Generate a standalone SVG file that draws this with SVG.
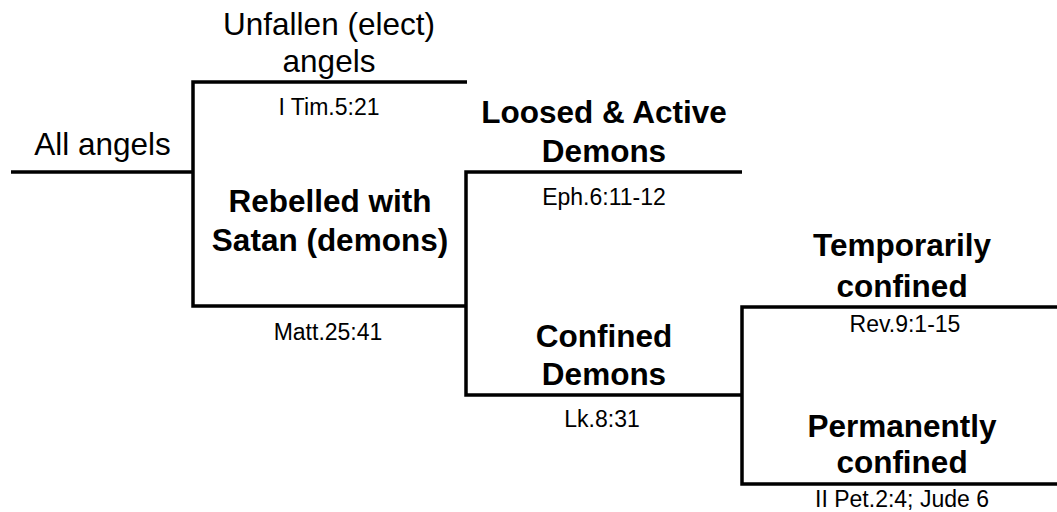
<svg xmlns="http://www.w3.org/2000/svg" width="1057" height="512" viewBox="0 0 1057 512">
<style>
text{font-family:"Liberation Sans",Arial,Helvetica,sans-serif;fill:#000;text-anchor:middle}
.big{font-size:31.5px}
.bold{font-size:31.5px;font-weight:bold}
.ref{font-size:23px}
.ln{fill:none;stroke:#000;stroke-width:3.5;stroke-linejoin:miter;stroke-linecap:butt}
</style>
<rect width="1057" height="512" fill="#fff"/>
<g id="connectors">
<path class="ln" d="M11,172 H193"/>
<path class="ln" d="M467,82 H193 V306 H466"/>
<path class="ln" d="M742,172 H466 V395 H742"/>
<path class="ln" d="M1057,307 H742 V484 H1057"/>
</g>
<g id="all-angels"><text class="big" x="102.5" y="155">All angels</text></g>
<g id="unfallen">
<text class="big" x="329" y="35">Unfallen (elect)</text>
<text class="big" x="329" y="72">angels</text>
<text class="ref" x="329" y="115">I Tim.5:21</text>
</g>
<g id="rebelled">
<text class="bold" x="330" y="212">Rebelled with</text>
<text class="bold" x="330" y="251">Satan (demons)</text>
<text class="ref" x="328" y="340">Matt.25:41</text>
</g>
<g id="loosed">
<text class="bold" x="604" y="123">Loosed &amp; Active</text>
<text class="bold" x="604" y="162">Demons</text>
<text class="ref" x="604" y="205">Eph.6:11-12</text>
</g>
<g id="confined">
<text class="bold" x="604" y="347">Confined</text>
<text class="bold" x="604" y="385">Demons</text>
<text class="ref" x="602" y="427">Lk.8:31</text>
</g>
<g id="temporarily">
<text class="bold" x="902" y="256">Temporarily</text>
<text class="bold" x="902" y="297">confined</text>
<text class="ref" x="905" y="332">Rev.9:1-15</text>
</g>
<g id="permanently">
<text class="bold" x="902" y="437">Permanently</text>
<text class="bold" x="902" y="473">confined</text>
<text class="ref" x="902" y="507">II Pet.2:4; Jude 6</text>
</g>
</svg>
